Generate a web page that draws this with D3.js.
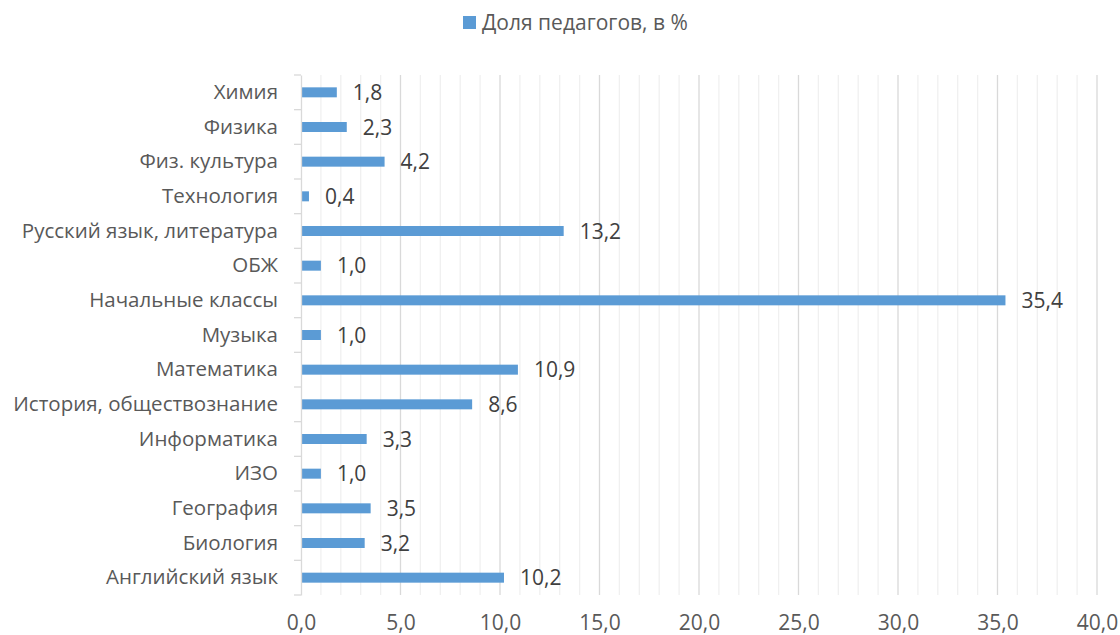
<!DOCTYPE html>
<html><head><meta charset="utf-8">
<script src="https://cdn.jsdelivr.net/npm/d3@7"></script>
<style>body{margin:0;background:#fff;} svg{display:block;font-family:"Open Sans",sans-serif;}</style>
</head><body>
<svg id="c" width="1120" height="635"></svg>
<script>
const categories = ["Химия","Физика","Физ. культура","Технология","Русский язык, литература","ОБЖ","Начальные классы","Музыка","Математика","История, обществознание","Информатика","ИЗО","География","Биология","Английский язык"];
const values = [1.8,2.3,4.2,0.4,13.2,1.0,35.4,1.0,10.9,8.6,3.3,1.0,3.5,3.2,10.2];
const xTicks = [0,5,10,15,20,25,30,35,40];
const seriesName = "Доля педагогов, в %";

const svg = d3.select("#c");
const L = 301, R = 1097, T = 75, B = 595;
const x = d3.scaleLinear().domain([0,40]).range([L,R]);
const y = d3.scaleBand().domain(categories).range([T,B]);
const fmt = v => v.toFixed(1).replace(".", ",");

// minor gridlines
svg.append("g").selectAll("line").data(d3.range(1,41).filter(v=>v%5!==0)).join("line")
  .attr("x1",d=>x(d)).attr("x2",d=>x(d)).attr("y1",T).attr("y2",B)
  .attr("stroke","#f0f0f0").attr("stroke-width",1.3);
// major gridlines
svg.append("g").selectAll("line").data(xTicks.slice(1)).join("line")
  .attr("x1",d=>x(d)).attr("x2",d=>x(d)).attr("y1",T).attr("y2",B)
  .attr("stroke","#d9d9d9").attr("stroke-width",1.3);

// bars
const bh = 10;
svg.append("g").selectAll("rect").data(values).join("rect")
  .attr("x",x(0)).attr("y",(d,i)=>y(categories[i])+y.bandwidth()/2-bh/2)
  .attr("width",d=>x(d)-x(0)).attr("height",bh).attr("fill","#5B9BD5");

// y axis
const yAxis = d3.axisLeft(y).tickSize(0).tickPadding(23);
const gy = svg.append("g").attr("transform",`translate(${L},0)`).call(yAxis);
gy.select(".domain").attr("stroke","#d9d9d9").attr("stroke-width",1.3);
gy.selectAll("text").attr("font-size",20.5).attr("fill","#595959").attr("font-family","Open Sans");
// category boundary ticks
svg.append("g").selectAll("line").data(d3.range(categories.length+1)).join("line")
  .attr("x1",L-7).attr("x2",L).attr("y1",i=>T+i*y.step()).attr("y2",i=>T+i*y.step())
  .attr("stroke","#d9d9d9").attr("stroke-width",1.3);

// x axis labels
const xAxis = d3.axisBottom(x).tickValues(xTicks).tickSize(0).tickPadding(20).tickFormat(fmt);
const gx = svg.append("g").attr("transform",`translate(0,${B})`).call(xAxis);
gx.select(".domain").remove();
gx.selectAll("text").attr("font-size",21).attr("fill","#595959").attr("font-family","Open Sans");

// value labels
svg.append("g").selectAll("text").data(values).join("text")
  .attr("x",d=>x(d)+16).attr("y",(d,i)=>y(categories[i])+y.bandwidth()/2)
  .attr("dy","0.36em").attr("font-size",21).attr("fill","#404040").text(fmt);

// legend
const lg = svg.append("g");
lg.append("rect").attr("x",463).attr("y",16).attr("width",13).attr("height",13).attr("fill","#5B9BD5");
lg.append("text").attr("x",482).attr("y",22.5).attr("dy","0.36em").attr("font-size",21).attr("fill","#595959").text(seriesName);
</script>
</body></html>
